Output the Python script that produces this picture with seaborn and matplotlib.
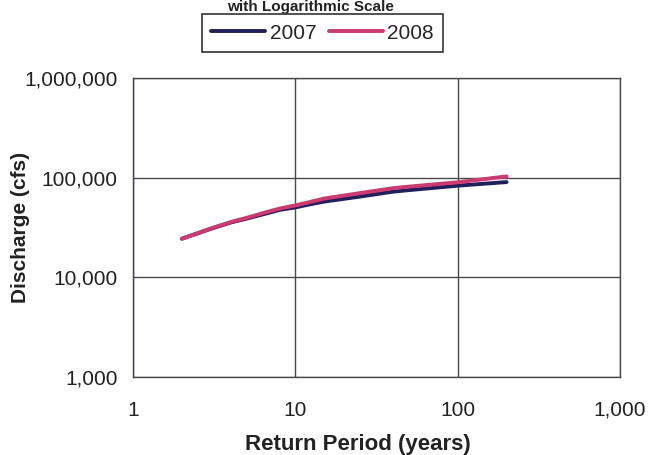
import matplotlib
matplotlib.use("Agg")
import matplotlib.pyplot as plt
import matplotlib.ticker as mticker
from matplotlib.lines import Line2D
import seaborn as sns
import pandas as pd

return_period = [2, 3, 4, 5, 7, 8, 10, 12, 15, 25, 40, 50, 100, 200]
discharge_2007 = [24400, 30600, 35500, 38800, 44800, 47500, 50300, 53600, 57500, 64600, 72400, 75000, 83100, 90300]
discharge_2008 = [24400, 30800, 35900, 39500, 46200, 49000, 52700, 56500, 61700, 70000, 78500, 81300, 89900, 103000]
series_names = ["2007", "2008"]
x_ticks = [1, 10, 100, 1000]
y_ticks = [1000, 10000, 100000, 1000000]

df = pd.DataFrame({
    "Return Period": return_period * 2,
    "Discharge": discharge_2007 + discharge_2008,
    "Year": [series_names[0]] * len(return_period) + [series_names[1]] * len(return_period),
})

sns.set_theme(style="white")
plt.rcParams["font.family"] = ["Liberation Sans", "DejaVu Sans"]

fig = plt.figure(figsize=(6.5, 4.55), dpi=100)
ax = fig.add_axes([0.2046, 0.1714, 0.7494, 0.6572])

palette = {"2007": "#20205a", "2008": "#cc3a72"}
sns.lineplot(data=df, x="Return Period", y="Discharge", hue="Year", palette=palette,
             linewidth=2.8, ax=ax, legend=False, zorder=3)

ax.set_xscale("log")
ax.set_yscale("log")
ax.set_xlim(1, 1000)
ax.set_ylim(1000, 1000000)
ax.set_xticks(x_ticks)
ax.set_yticks(y_ticks)
fmt = mticker.FuncFormatter(lambda v, p: f"{int(round(v)):,}")
ax.xaxis.set_major_formatter(fmt)
ax.yaxis.set_major_formatter(fmt)
ax.xaxis.set_minor_locator(mticker.NullLocator())
ax.yaxis.set_minor_locator(mticker.NullLocator())

ax.grid(True, which="major", color="#4a4a4a", linewidth=1.0)
for s in ax.spines.values():
    s.set_color("#4a4a4a")
    s.set_linewidth(1.0)
ax.spines["left"].set_color("#3a3a6a")

ax.tick_params(axis="both", which="major", direction="out", length=4, width=1,
               color="#4a4a4a", labelsize=15, labelcolor="#222222")
ax.tick_params(axis="x", pad=13)
ax.tick_params(axis="y", pad=7)

ax.set_xlabel("Return Period (years)", fontsize=16, fontweight="bold", color="#222222")
ax.xaxis.set_label_coords(0.462, -0.19)
ax.set_ylabel("Discharge (cfs)", fontsize=15, fontweight="bold", color="#222222")
ax.yaxis.set_label_coords(-0.212, 0.5)

handles = [Line2D([0], [0], color=palette[n], linewidth=2.8) for n in series_names]
leg = fig.legend(handles, series_names, loc="center", bbox_to_anchor=(0.496, 0.927), ncol=2,
                 fontsize=15, frameon=True, fancybox=False, framealpha=1,
                 edgecolor="#333333", handlelength=2.6, handletextpad=0.2,
                 columnspacing=0.6, borderpad=0.45)
leg.get_frame().set_linewidth(1.2)

fig.text(0.477, 0.999, "with Logarithmic Scale", ha="center", va="top",
         fontsize=11, fontweight="bold", color="#222222")

fig.savefig("out.png", dpi=100, facecolor="white")
